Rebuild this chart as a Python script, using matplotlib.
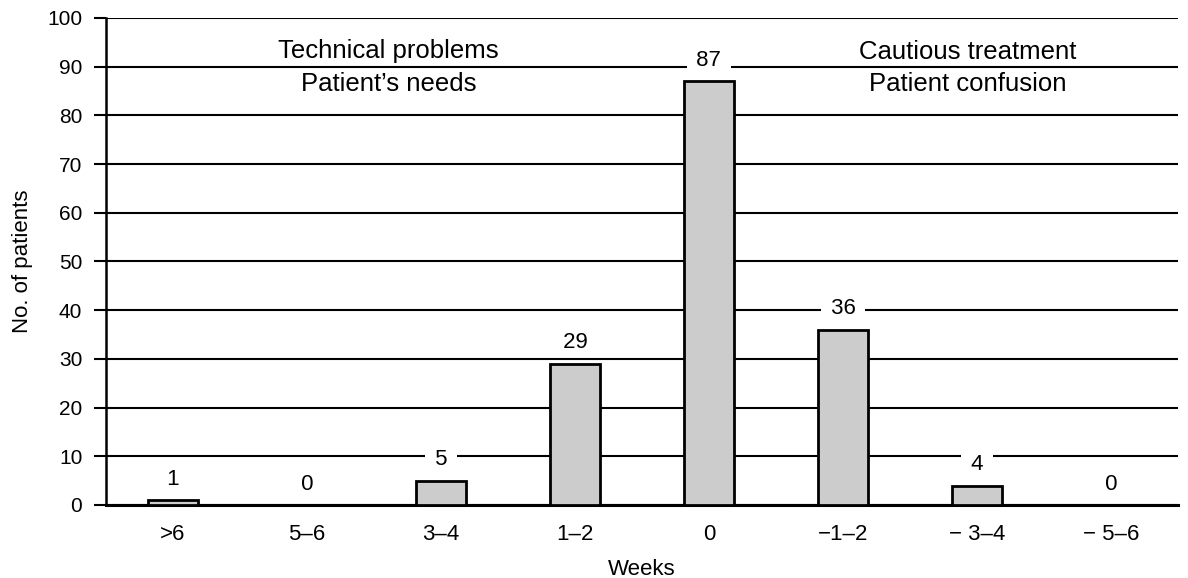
import matplotlib.pyplot as plt

plt.rcParams['font.family'] = ['Liberation Sans', 'DejaVu Sans']

# Datos del gráfico
semanas = [">6", "5–6", "3–4", "1–2", "0", "−1–2", "− 3–4", "− 5–6"]
pacientes = [1, 0, 5, 29, 87, 36, 4, 0]

fig = plt.figure(figsize=(11.88, 5.78), dpi=100)
ax = fig.add_axes([0.0892, 0.1263, 0.9024, 0.8426])

x = range(len(semanas))
ax.bar(x, pacientes, width=0.38, color="#cccccc", edgecolor="black", linewidth=2, zorder=3)

# Etiquetas encima de las barras, con fondo blanco sobre la cuadrícula
for i, v in zip(x, pacientes):
    ax.annotate(f" {v} ", (i, v), xytext=(0, 15), textcoords="offset points",
                ha="center", va="center", fontsize=16, zorder=4,
                bbox=dict(facecolor="white", edgecolor="none", pad=2.5))

ax.set_xlim(-0.5, len(semanas) - 0.5)
ax.set_ylim(0, 100)
ax.set_yticks(range(0, 101, 10))
ax.set_xticks(list(x))
ax.set_xticklabels(semanas)
ax.tick_params(axis="x", length=0, pad=14, labelsize=16)
ax.tick_params(axis="y", length=9, width=1.5, direction="out", labelsize=15, pad=8)
ax.yaxis.grid(True, color="black", linewidth=1.5, zorder=0)
ax.set_axisbelow(True)

for s in ["top", "right"]:
    ax.spines[s].set_visible(False)
ax.spines["left"].set_linewidth(1.8)
ax.spines["bottom"].set_linewidth(2.2)

ax.set_ylabel("No. of patients", fontsize=16, labelpad=10)
ax.set_xlabel("Weeks", fontsize=16, labelpad=10)

ax.text(1.61, 91.8, "Technical problems", ha="center", va="baseline", fontsize=18.5)
ax.text(1.61, 85.0, "Patient’s needs", ha="center", va="baseline", fontsize=18.5)
ax.text(5.93, 91.6, "Cautious treatment", ha="center", va="baseline", fontsize=18.5)
ax.text(5.93, 85.0, "Patient confusion", ha="center", va="baseline", fontsize=18.5)

fig.savefig("out.png", dpi=100)
